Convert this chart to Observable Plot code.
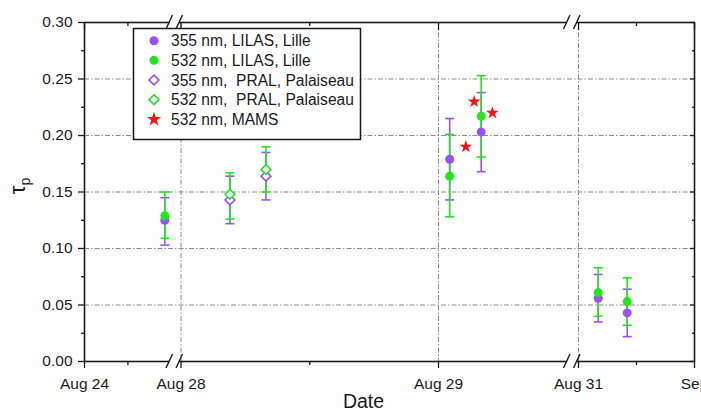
<!DOCTYPE html>
<html><head><meta charset="utf-8">
<script src="https://cdn.jsdelivr.net/npm/d3@7"></script>
<script src="https://cdn.jsdelivr.net/npm/@observablehq/plot@0.6"></script>
<style>
body{margin:0;background:#fff;}
#wrap{position:relative;width:701px;height:410px;font-family:Arial,"Liberation Sans",sans-serif;}
</style></head><body><div id="wrap"></div>
<script>
// ---- axis definitions (day of August; 32 = Sep 1) ----
const tickDays = [24, 28, 29, 31, 32];
const tickLabels = ["Aug 24", "Aug 28", "Aug 29", "Aug 31", "Sep"];
const minorDays = [25.8, 28.5, 31.5];
const gridDays = [28, 29, 31];
const breakDays = [28, 31];
const yTicks = [0, 0.05, 0.10, 0.15, 0.20, 0.25, 0.30];
const yMinor = [0.025, 0.075, 0.125, 0.175, 0.225, 0.275];
const yGrid = [0.05, 0.10, 0.15, 0.20, 0.25];

// ---- data ----
const lilasDates = [27.33, 29.16, 29.61, 31.17, 31.42];
const lilas355   = [0.125, 0.179, 0.203, 0.056, 0.043];
const lilas355Lo = [0.103, 0.143, 0.168, 0.035, 0.022];
const lilas355Hi = [0.145, 0.215, 0.238, 0.077, 0.064];
const lilas532   = [0.129, 0.164, 0.217, 0.061, 0.053];
const lilas532Lo = [0.109, 0.128, 0.181, 0.040, 0.032];
const lilas532Hi = [0.150, 0.201, 0.253, 0.083, 0.074];

const pralDates = [28.19, 28.33];
const pral355   = [0.143, 0.164];
const pral355Lo = [0.122, 0.143];
const pral355Hi = [0.164, 0.185];
const pral532   = [0.148, 0.170];
const pral532Lo = [0.126, 0.150];
const pral532Hi = [0.167, 0.190];

const mamsDates = [29.39, 29.51, 29.77];
const mams532   = [0.190, 0.230, 0.220];

const legendLabels = ["355 nm, LILAS, Lille", "532 nm, LILAS, Lille", "355 nm,  PRAL, Palaiseau", "532 nm,  PRAL, Palaiseau", "532 nm, MAMS"];

const PURPLE = "#9b4ff7", GREEN = "#1fe61f", RED = "#ff1010", INK = "#1a1a1a";

const rows = (dates, v, lo, hi) => dates.map((d, i) => ({date: d, value: v[i], lo: lo ? lo[i] : null, hi: hi ? hi[i] : null}));
const L355 = rows(lilasDates, lilas355, lilas355Lo, lilas355Hi);
const L532 = rows(lilasDates, lilas532, lilas532Lo, lilas532Hi);
const P355 = rows(pralDates, pral355, pral355Lo, pral355Hi);
const P532 = rows(pralDates, pral532, pral532Lo, pral532Hi);
const MAMS = rows(mamsDates, mams532);
const E355 = L355.concat(P355), E532 = L532.concat(P532);

const capSymbol = {draw(ctx, size) { const w = Math.sqrt(size / Math.PI); ctx.moveTo(-w, 0); ctx.lineTo(w, 0); }};

function errMarks(data, color) {
  return [
    Plot.ruleX(data, {x: "date", y1: "lo", y2: "hi", stroke: color, strokeWidth: 1.6}),
    Plot.dot(data, {x: "date", y: "lo", symbol: capSymbol, r: 4.5, stroke: color, strokeWidth: 1.6, fill: "none"}),
    Plot.dot(data, {x: "date", y: "hi", symbol: capSymbol, r: 4.5, stroke: color, strokeWidth: 1.6, fill: "none"})
  ];
}
const dash = "5,2,1.5,2";
const blank = () => "";

const chart = Plot.plot({
  width: 701, height: 410,
  marginTop: 22, marginBottom: 49, marginLeft: 84, marginRight: 7,
  style: {fontFamily: "Arial, 'Liberation Sans', sans-serif", fontSize: "15.5px", color: INK, background: "#fff"},
  x: {type: "linear", domain: tickDays, range: [84, 180.5, 438, 578, 694]},
  y: {domain: [0, 0.30]},
  marks: [
    Plot.gridY(yGrid, {stroke: "#8a8a8a", strokeOpacity: 1, strokeDasharray: dash, strokeWidth: 1}),
    Plot.gridX(gridDays, {stroke: "#8a8a8a", strokeOpacity: 1, strokeDasharray: dash, strokeWidth: 1}),
    ...errMarks(E355, PURPLE),
    ...errMarks(E532, GREEN),
    Plot.dot(L355, {x: "date", y: "value", r: 4.5, fill: PURPLE}),
    Plot.dot(P355, {x: "date", y: "value", r: 4.4, symbol: "diamond2", fill: "white", stroke: PURPLE, strokeWidth: 1.6}),
    Plot.dot(L532, {x: "date", y: "value", r: 4.5, fill: GREEN}),
    Plot.dot(P532, {x: "date", y: "value", r: 4.4, symbol: "diamond2", fill: "white", stroke: GREEN, strokeWidth: 1.6}),
    Plot.dot(MAMS, {x: "date", y: "value", r: 4, symbol: "star", fill: RED}),
    Plot.frame({stroke: INK, strokeWidth: 1.6}),
    Plot.axisY(yTicks, {tickSize: 6, tickPadding: 6, tickFormat: d3.format(".2f"), label: null, stroke: INK, strokeWidth: 1.3, fontSize: 15.5}),
    Plot.axisY(yMinor, {tickSize: 3, tickFormat: blank, label: null, stroke: INK, strokeWidth: 1.3}),
    Plot.axisY(yTicks, {anchor: "right", tickSize: -5, tickFormat: blank, label: null, stroke: INK, strokeWidth: 1.3}),
    Plot.axisY(yMinor, {anchor: "right", tickSize: -3, tickFormat: blank, label: null, stroke: INK, strokeWidth: 1.3}),
    Plot.axisX(tickDays, {tickSize: 7, tickPadding: 9, tickFormat: d => tickLabels[tickDays.indexOf(d)], label: null, stroke: INK, strokeWidth: 1.3, fontSize: 15.5}),
    Plot.axisX(minorDays, {tickSize: 4, tickFormat: blank, label: null, stroke: INK, strokeWidth: 1.3}),
    Plot.axisX(tickDays, {anchor: "top", tickSize: -7, tickFormat: blank, label: null, stroke: INK, strokeWidth: 1.3}),
    Plot.axisX(minorDays, {anchor: "top", tickSize: -3, tickFormat: blank, label: null, stroke: INK, strokeWidth: 1.3}),
    Plot.text(["Date"], {frameAnchor: "bottom", dx: -26, dy: 46, fontSize: 19.5, fill: INK})
  ]
});
document.getElementById("wrap").appendChild(chart);

// ---- axis breaks ----
const svg = d3.select(chart);
const xs = chart.scale("x"), ys = chart.scale("y");
const yEdges = [ys.apply(0), ys.apply(0.30)];
breakDays.forEach(d => {
  const c = xs.apply(d) - 5;
  yEdges.forEach(yy => {
    svg.append("rect").attr("x", c - 6).attr("y", yy - 2).attr("width", 9.5).attr("height", 4).attr("fill", "white");
    svg.append("line").attr("x1", c - 9.5).attr("y1", yy + 7).attr("x2", c - 3).attr("y2", yy - 7).attr("stroke", INK).attr("stroke-width", 1.4);
    svg.append("line").attr("x1", c + 0.5).attr("y1", yy + 7).attr("x2", c + 7).attr("y2", yy - 7).attr("stroke", INK).attr("stroke-width", 1.4);
  });
});

// ---- y label ----
const yl = svg.append("text").attr("transform", "translate(25,186) rotate(-90)").attr("text-anchor", "middle")
  .attr("fill", INK).attr("font-size", 22).attr("font-family", "Arial, 'Liberation Sans', sans-serif");
yl.append("tspan").text("τ");
yl.append("tspan").attr("font-size", 14).attr("dy", 5).text("p");

// ---- legend ----
const leg = svg.append("g").attr("text-anchor", "start");
leg.append("rect").attr("x", 133.5).attr("y", 28.5).attr("width", 227).attr("height", 111)
  .attr("fill", "white").attr("stroke", INK).attr("stroke-width", 1.5);
const legSyms = [
  {sym: d3.symbolCircle, r: 4.5, fill: PURPLE, stroke: "none"},
  {sym: d3.symbolCircle, r: 4.5, fill: GREEN, stroke: "none"},
  {sym: d3.symbolDiamond2, r: 4.4, fill: "white", stroke: PURPLE},
  {sym: d3.symbolDiamond2, r: 4.4, fill: "white", stroke: GREEN},
  {sym: d3.symbolStar, r: 4.5, fill: RED, stroke: "none"}
];
legendLabels.forEach((lab, i) => {
  const cy = 40.7 + i * 19.65;
  const s = legSyms[i];
  leg.append("path").attr("transform", `translate(154,${cy})`)
    .attr("d", d3.symbol(s.sym, Math.PI * s.r * s.r)())
    .attr("fill", s.fill).attr("stroke", s.stroke).attr("stroke-width", 1.6);
  leg.append("text").attr("x", 171).attr("y", cy).attr("dy", "0.36em").attr("text-anchor", "start")
    .attr("font-size", 15.6).attr("fill", INK).style("white-space", "pre")
    .attr("font-family", "Arial, 'Liberation Sans', sans-serif").text(lab);
});
</script></body></html>
